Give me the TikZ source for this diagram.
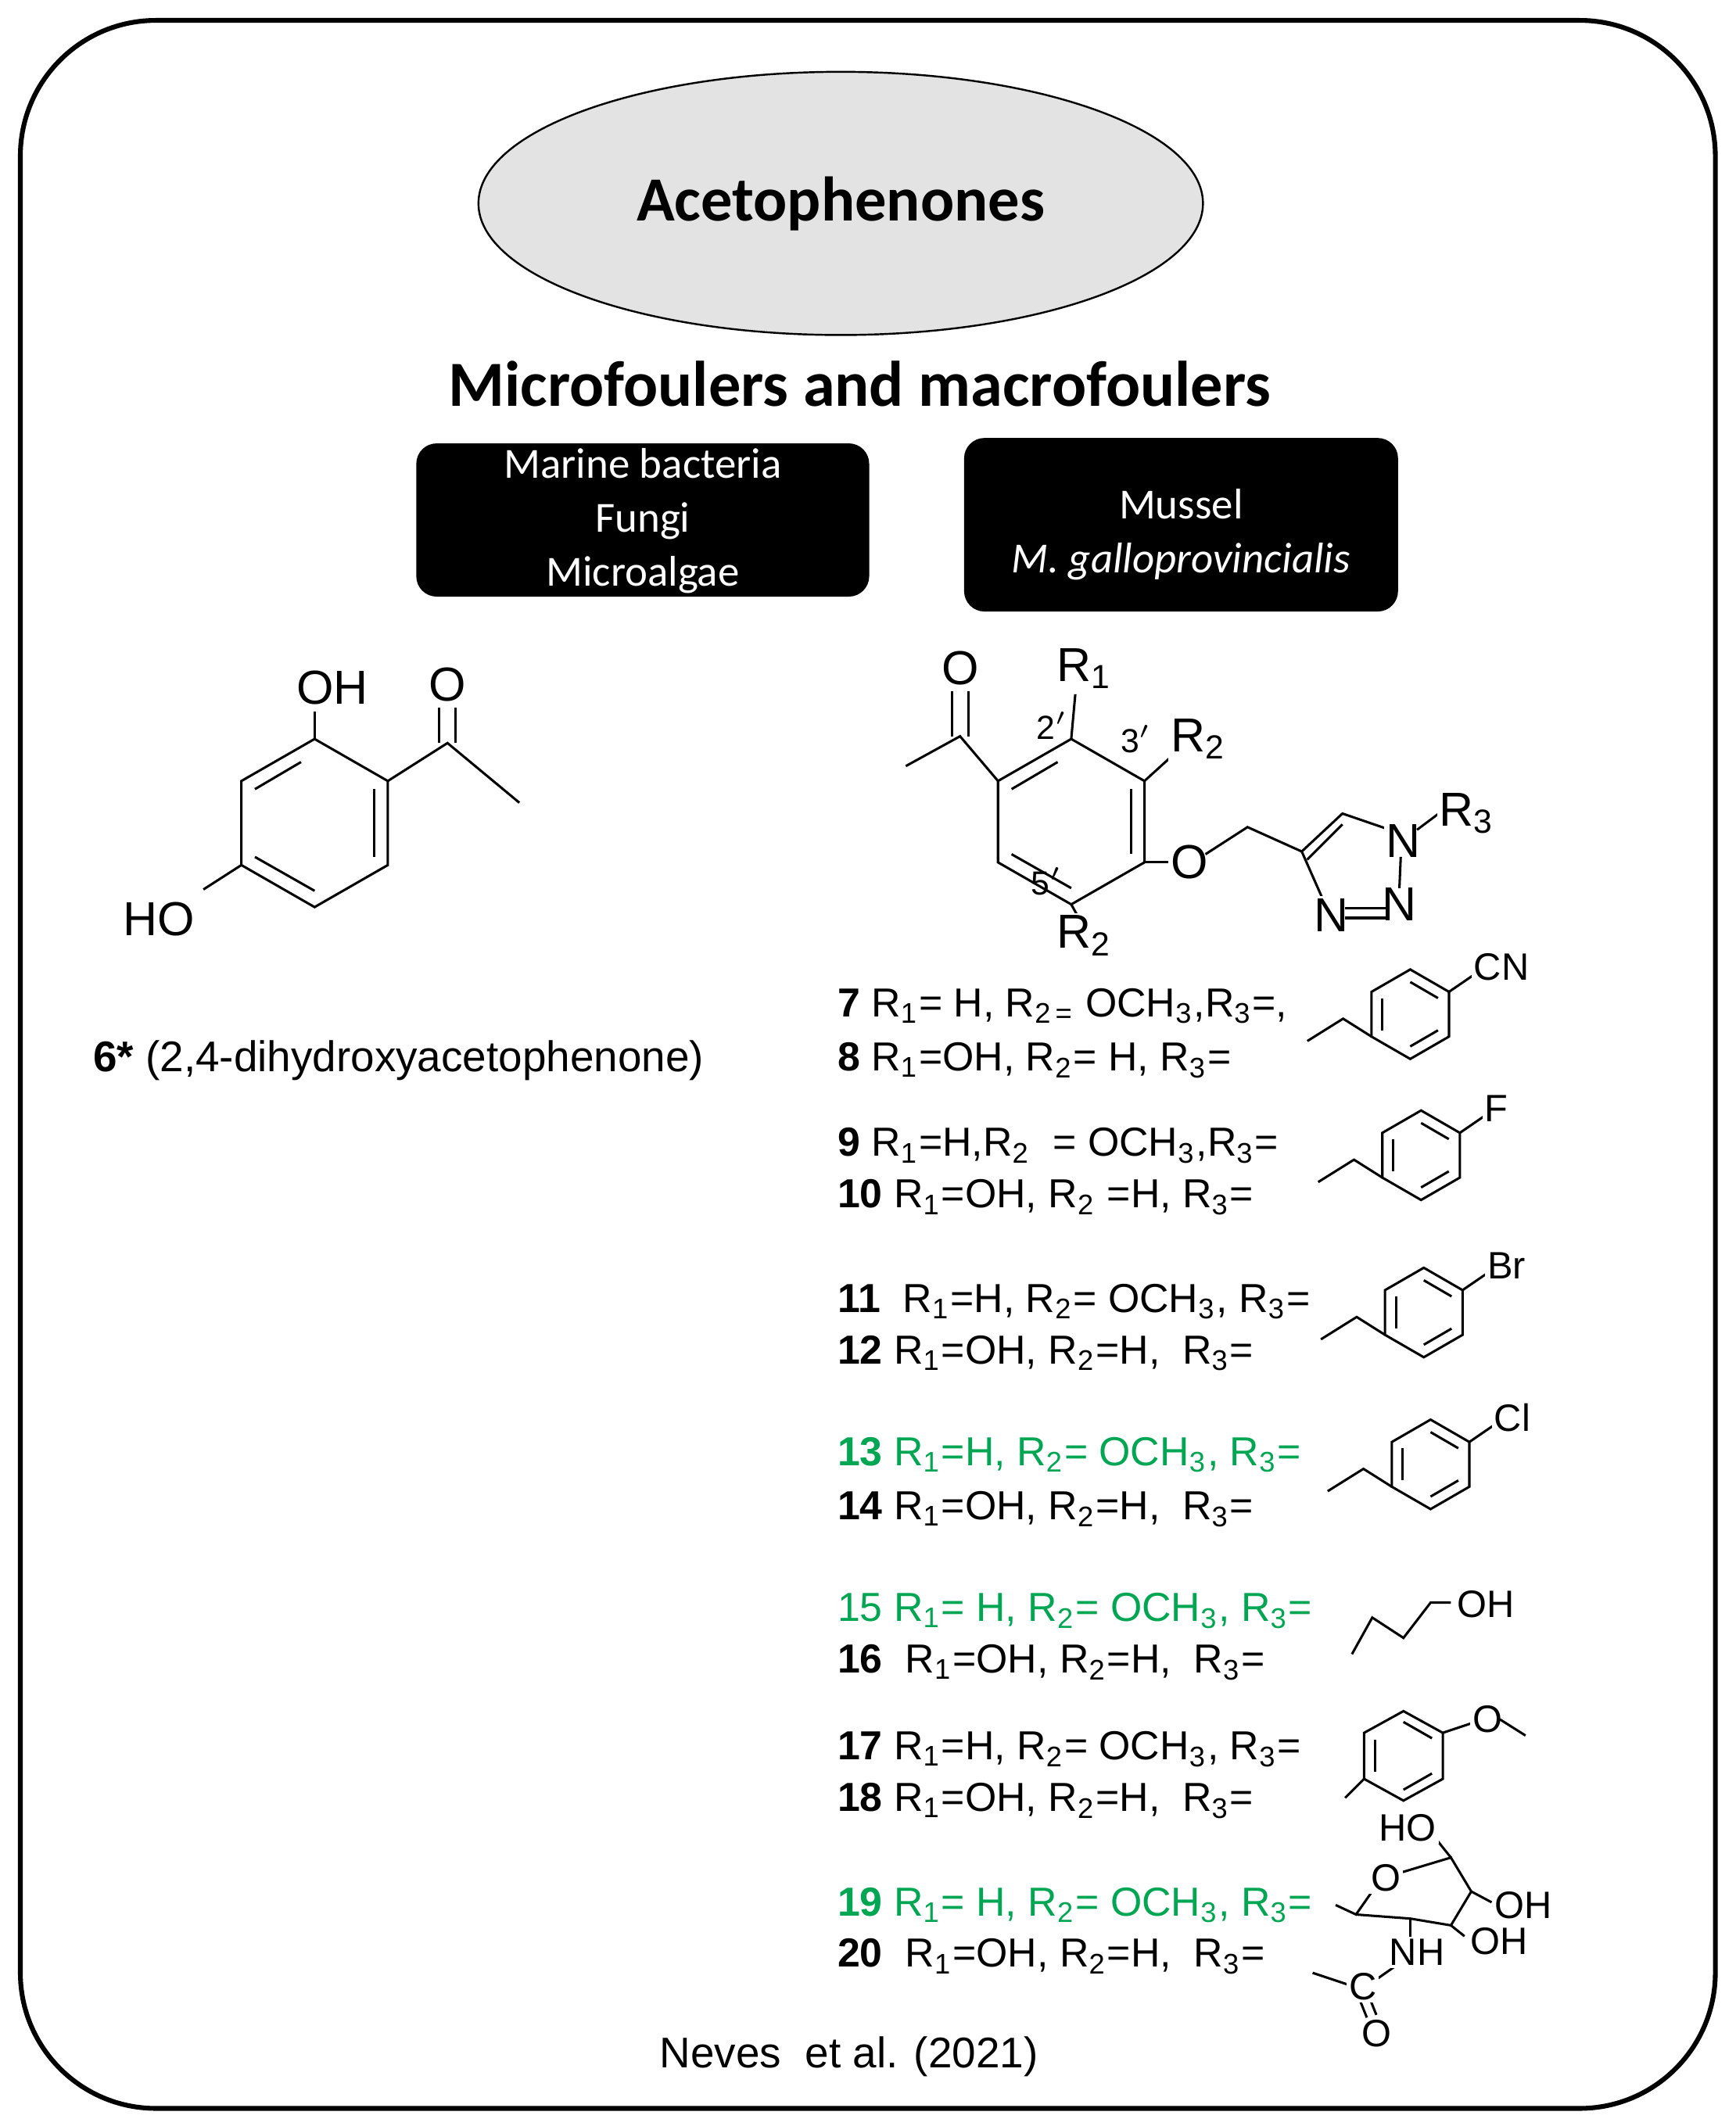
\documentclass[tikz,border=0pt]{standalone}
\usepackage{fontspec}
\setmainfont{Liberation Sans}
\newfontfamily\calfont{Carlito}
\usetikzlibrary{shapes.geometric}
\definecolor{actgreen}{RGB}{0,166,81}
\tikzset{
  bond/.style={line width=0.5pt},
  atom/.style={inner sep=0.5pt,fill=white,font=\fontsize{8}{9}\selectfont},
  locant/.style={inner sep=0pt,font=\fontsize{7}{8}\selectfont},
  row/.style={anchor=west,inner sep=0pt,font=\fontsize{8.5}{10}\selectfont},
  boxtxt/.style={text=white,align=center,font=\calfont\fontsize{9}{11.3}\selectfont},
}
\newcommand{\sub}[1]{\textsubscript{#1}}
% small benzyl ring with para substituent
\newcommand{\benzring}[4]{% cx, cy, r, label
  \draw[bond] (#1+#3*0.866,#2-#3*0.5) -- (#1,#2-#3) -- (#1-#3*0.866,#2-#3*0.5) -- (#1-#3*0.866,#2+#3*0.5)
     -- (#1,#2+#3) -- (#1+#3*0.866,#2+#3*0.5) -- cycle;
  \draw[bond] (#1+#3*0.62,#2-#3*0.36) -- (#1,#2-#3*0.72);
  \draw[bond] (#1-#3*0.62,#2-#3*0.36) -- (#1-#3*0.62,#2+#3*0.36);
  \draw[bond] (#1,#2+#3*0.72) -- (#1+#3*0.62,#2+#3*0.36);
  \draw[bond] (#1-#3*0.866,#2+#3*0.5) -- (#1-#3*1.5,#2+#3*0.1) -- (#1-#3*2.3,#2+#3*0.6);
  \draw[bond] (#1+#3*0.866,#2-#3*0.5) -- (#1+#3*1.45,#2-#3*0.9);
  \node[atom,anchor=west] at (#1+#3*1.35,#2-#3*1.05) {#4};
}
\begin{document}
\begin{tikzpicture}[x=0.01cm,y=-0.01cm]
  \useasboundingbox (0,0) rectangle (1280,1568);
  % frame and titles
  \draw[line width=1pt,rounded corners=1cm] (15,15) rectangle (1265,1555);
  \node[ellipse,draw,fill=gray!22,minimum width=5.34cm,minimum height=1.94cm,
        font=\calfont\bfseries\fontsize{13.2}{15}\selectfont] (title) at (620,150) {Acetophenones};
  \node[font=\calfont\bfseries\fontsize{13.5}{15}\selectfont] (foulers) at (634,283) {Microfoulers and macrofoulers};
  \fill[rounded corners=0.15cm] (307,327) rectangle (641,440);
  \fill[rounded corners=0.15cm] (711,323) rectangle (1031,451);
  \node[boxtxt] (micro) at (474,384) {Marine bacteria\\Fungi\\Microalgae};
  \node[boxtxt] (macro) at (871,394) {Mussel\\\textit{M. galloprovincialis}};

  % compound 6
  \draw[bond] (232,545) -- (286,576) -- (286,638) -- (232,669) -- (178,638) -- (178,576) -- cycle;
  \draw[bond] (188,582) -- (222,562); \draw[bond] (276,582) -- (276,632); \draw[bond] (188,632) -- (232,657);
  \draw[bond] (232,545) -- (232,525);
  \node[atom,font=\fontsize{10}{12}\selectfont] (oh6) at (245,507) {OH};
  \draw[bond] (286,576) -- (330,548) -- (383,592);
  \draw[bond] (324,548) -- (324,522); \draw[bond] (336,548) -- (336,522);
  \node[atom,font=\fontsize{10}{12}\selectfont] (o6) at (330,505) {O};
  \draw[bond] (178,638) -- (150,656);
  \node[atom,font=\fontsize{10}{12}\selectfont] (ho6) at (117,678) {HO};
  \node[row,font=\fontsize{9}{11}\selectfont] (lab6) at (68,782) {\textbf{6*} (2,4-dihydroxyacetophenone)};

  % core scaffold 7-20
  \draw[bond] (790,545) -- (844,576) -- (844,636) -- (790,667) -- (736,636) -- (736,576) -- cycle;
  \draw[bond] (746,582) -- (780,562); \draw[bond] (834,582) -- (834,630); \draw[bond] (746,630) -- (790,655);
  \draw[bond] (736,576) -- (708,543) -- (668,565);
  \draw[bond] (702,543) -- (702,510); \draw[bond] (714,543) -- (714,510);
  \node[atom,font=\fontsize{10}{12}\selectfont] at (708,493) {O};
  \draw[bond] (790,545) -- (793,512);
  \node[atom,font=\fontsize{10}{12}\selectfont] at (800,493) {R\sub{1}};
  \draw[bond] (844,576) -- (866,556);
  \node[atom,font=\fontsize{10}{12}\selectfont] at (884,545) {R\sub{2}};
  \draw[bond] (790,667) -- (795,676);
  \node[atom,font=\fontsize{10}{12}\selectfont] at (800,690) {R\sub{2}};
  \node[locant] at (776,535) {2$'$};
  \node[locant] at (838,545) {3$'$};
  \node[locant] at (772,650) {5$'$};
  \draw[bond] (844,636) -- (866,636);
  \node[atom,font=\fontsize{10}{12}\selectfont] at (877,636) {O};
  \draw[bond] (889,630) -- (920,610) -- (960,628);
  \draw[bond] (960,628) -- (990,600) -- (1025,612);
  \draw[bond] (964,634) -- (990,608);
  \draw[bond] (960,628) -- (975,662);
  \node[atom,font=\fontsize{10}{12}\selectfont] at (1035,620) {N};
  \node[atom,font=\fontsize{10}{12}\selectfont] at (1032,667) {N};
  \node[atom,font=\fontsize{10}{12}\selectfont] at (982,675) {N};
  \draw[bond] (1033,632) -- (1032,655);
  \draw[bond] (992,670) -- (1022,670); \draw[bond] (992,677) -- (1022,677);
  \draw[bond] (1045,612) -- (1065,597);
  \node[atom,font=\fontsize{10}{12}\selectfont] at (1082,600) {R\sub{3}};

  % substituent rows
  \node[row] (c7) at (617,742) {\textbf{7} R\sub{1}= H, R\sub{2\,=} OCH\sub{3},R\sub{3}=,};
  \node[row] (c8) at (617,782) {\textbf{8} R\sub{1}=OH, R\sub{2}= H, R\sub{3}=};
  \benzring{1040}{748}{33}{CN}
  \node[row] (c9) at (617,845) {\textbf{9} R\sub{1}=H,R\sub{2}\ \ = OCH\sub{3},R\sub{3}=};
  \node[row] (c10) at (617,883) {\textbf{10} R\sub{1}=OH, R\sub{2} =H, R\sub{3}=};
  \benzring{1048}{852}{33}{F}
  \node[row] (c11) at (617,960) {\textbf{11}\ \ R\sub{1}=H, R\sub{2}= OCH\sub{3}, R\sub{3}=};
  \node[row] (c12) at (617,998) {\textbf{12} R\sub{1}=OH, R\sub{2}=H,\ \ R\sub{3}=};
  \benzring{1050}{968}{33}{Br}
  \node[row,text=actgreen] (c13) at (617,1073) {\textbf{13} R\sub{1}=H, R\sub{2}= OCH\sub{3}, R\sub{3}=};
  \node[row] (c14) at (617,1113) {\textbf{14} R\sub{1}=OH, R\sub{2}=H,\ \ R\sub{3}=};
  \benzring{1055}{1080}{33}{Cl}
  \node[row,text=actgreen] (c15) at (617,1188) {15 R\sub{1}= H, R\sub{2}= OCH\sub{3}, R\sub{3}=};
  \node[row] (c16) at (617,1226) {\textbf{16}\ \ R\sub{1}=OH, R\sub{2}=H,\ \ R\sub{3}=};
  \draw[bond] (997,1220) -- (1012,1193) -- (1035,1208) -- (1055,1182) -- (1070,1182);
  \node[atom,anchor=west] at (1072,1183) {OH};
  \node[row] (c17) at (617,1290) {\textbf{17} R\sub{1}=H, R\sub{2}= OCH\sub{3}, R\sub{3}=};
  \node[row] (c18) at (617,1328) {\textbf{18} R\sub{1}=OH, R\sub{2}=H,\ \ R\sub{3}=};
  \draw[bond] (1064,1278) -- (1035,1262) -- (1006,1278) -- (1006,1312) -- (1035,1328) -- (1064,1312) -- cycle;
  \draw[bond] (1014,1283) -- (1014,1307); \draw[bond] (1035,1320) -- (1056,1308); \draw[bond] (1035,1270) -- (1056,1282);
  \draw[bond] (1006,1312) -- (992,1326);
  \draw[bond] (1064,1278) -- (1088,1270);
  \node[atom] at (1097,1268) {O};
  \draw[bond] (1106,1268) -- (1125,1280);
  \node[row,text=actgreen] (c19) at (617,1405) {\textbf{19} R\sub{1}= H, R\sub{2}= OCH\sub{3}, R\sub{3}=};
  \node[row] (c20) at (617,1443) {\textbf{20}\ \ R\sub{1}=OH, R\sub{2}=H,\ \ R\sub{3}=};
  % glucosamine residue
  \draw[bond] (1058,1355) -- (1070,1370);
  \draw[bond] (985,1405) -- (1000,1412) -- (1014,1392);
  \draw[bond] (1030,1382) -- (1070,1370) -- (1085,1395) -- (1070,1420) -- (1040,1415) -- (1000,1412);
  \draw[bond] (1085,1395) -- (1100,1403);
  \draw[bond] (1070,1420) -- (1080,1428);
  \draw[bond] (1040,1415) -- (1040,1430);
  \draw[bond] (1032,1448) -- (1012,1462);
  \draw[bond] (998,1465) -- (968,1455);
  \draw[bond] (1002,1473) -- (1008,1488); \draw[bond] (1009,1471) -- (1015,1486);
  \node[atom] at (1038,1348) {HO};
  \node[atom] at (1022,1385) {O};
  \node[atom,anchor=west] at (1100,1405) {OH};
  \node[atom,anchor=west] at (1082,1432) {OH};
  \node[atom] at (1045,1440) {NH};
  \node[atom] at (1005,1465) {C};
  \node[atom] at (1015,1500) {O};

  \node[font=\fontsize{9}{11}\selectfont] (cite) at (626,1517) {Neves\ \ et al. (2021)};
\end{tikzpicture}
\end{document}
